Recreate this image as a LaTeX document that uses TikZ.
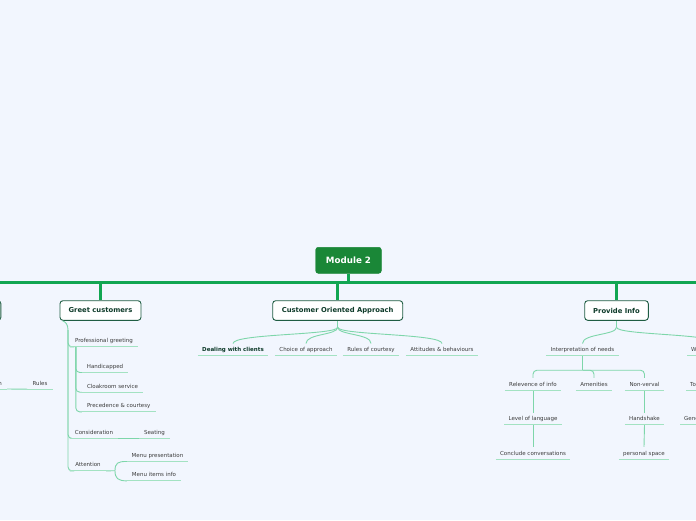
\documentclass[tikz,border=0pt]{standalone}
\usepackage{fontspec}
\setmainfont{DejaVu Sans}
\usetikzlibrary{calc}
\definecolor{bg}{HTML}{F2F6FE}
\definecolor{rootg}{HTML}{1A8737}
\definecolor{barg}{HTML}{12A652}
\definecolor{bord}{HTML}{1F5D43}
\definecolor{btext}{HTML}{0E3B2A}
\definecolor{subt}{HTML}{3B3B3B}
\definecolor{connc}{HTML}{7ED6AA}
\definecolor{ulc}{HTML}{A3E2C2}
\begin{document}
\begin{tikzpicture}[x=1pt,y=-1pt,
  rootbox/.style={fill=rootg, draw=rootg, rounded corners=2.5pt, text=white, font=\bfseries\fontsize{8.7}{10}\selectfont, minimum width=65.6pt, minimum height=26pt, inner sep=0},
  branch/.style={fill=white, draw=bord, line width=0.9pt, rounded corners=3pt, text=btext, font=\bfseries\fontsize{6.8}{8}\selectfont, minimum height=19.6pt, inner sep=0},
  sub/.style={font=\fontsize{5.5}{6.5}\selectfont, text=subt, minimum height=12pt, inner sep=0, text height=4.6pt, text depth=0.2pt},
  subb/.style={sub, font=\bfseries\fontsize{5.5}{6.5}\selectfont, text=btext},
  conn/.style={draw=connc, line width=0.9pt},
  uline/.style={draw=ulc, line width=0.9pt},
  bar/.style={draw=barg, line width=3.2pt}]
\useasboundingbox (0,0) rectangle (696,520);
\clip (0,0) rectangle (696,520);
\fill[bg] (0,0) rectangle (696,520);

% root and bar
\node[rootbox] (root) at (348.5,260.3) {Module 2};
\coordinate (barL) at (-5,282.7);
\coordinate (barR) at (701,282.7);
\draw[bar] (barL) -- (barR);
\draw[bar, line width=2.8pt] (root.south) -- (root.south |- barL);

% branches
\node[branch, minimum width=60pt, anchor=east] (lb) at (1.3,310.5) {};
\node[branch, minimum width=81pt] (greet) at (100.5,310.5) {Greet customers};
\node[branch, minimum width=130pt] (coa) at (337.7,310.5) {Customer Oriented Approach};
\node[branch, minimum width=63.6pt] (pi) at (616.5,310.5) {Provide Info};
\foreach \b in {greet,coa,pi} \draw[bar, line width=3pt] (\b.north |- barL) -- (\b.north);

% left partial
\node[sub, anchor=south east, inner xsep=5pt] (nn) at (7,389) {n};
\node[sub, minimum width=25pt] (rules) at (40,383) {Rules};
\draw[conn] (nn.south east) -- (rules.south west);

% Greet customers children
\node[sub, minimum width=68pt] (pg) at (104,340.7) {Professional greeting};
\node[sub, minimum width=46pt] (hc) at (105,366.3) {Handicapped};
\node[sub, minimum width=61pt] (cs) at (112.5,386) {Cloakroom service};
\node[sub, minimum width=73.5pt] (pc) at (118.75,405.7) {Precedence \& courtesy};
\node[sub, minimum width=48pt] (cons) at (94,432.3) {Consideration};
\node[sub, minimum width=31pt] (seat) at (154.5,432.3) {Seating};
\node[sub, minimum width=36pt] (att) at (88,464.7) {Attention};
\node[sub, minimum width=61pt] (mp) at (157.5,455.3) {Menu presentation};
\node[sub, minimum width=54pt] (mi) at (154,474.7) {Menu items info};

\coordinate (gs) at (68,330);
\draw[conn] ($(greet.south west)+(3,0)$) .. controls (66,322) and (68,325) .. (gs);
\foreach \c in {pg,cons,att} \draw[conn, rounded corners=4pt] (gs) |- (\c.south west);
\coordinate (pgs) at ($(pg.south west)+(6,0)$);
\foreach \c in {hc,cs,pc} \draw[conn, rounded corners=4pt] (pgs) |- (\c.south west);
\draw[conn] (cons.south east) -- (seat.south west);
\coordinate (af) at (115,470.7);
\draw[conn] (att.south east) -- (af);
\draw[conn] (af) .. controls (115,463) and (118,461.3) .. (mp.south west);
\draw[conn] (af) .. controls (115,478.5) and (118,480.7) .. (mi.south west);

% Customer Oriented Approach children
\node[subb, minimum width=70pt] (dw) at (233,349.7) {Dealing with clients};
\node[sub, minimum width=62pt] (ca) at (306,349.7) {Choice of approach};
\node[sub, minimum width=56pt] (rc) at (371,349.7) {Rules of courtesy};
\node[sub, minimum width=72pt] (ab) at (442,349.7) {Attitudes \& behaviours};
\coordinate (cf) at ($(coa.south)+(0,6.5)$);
\draw[conn] (coa.south) -- (cf);
\foreach \c in {dw,ca,rc,ab} \draw[conn] (cf) .. controls +(0,8) and +(0,-10) .. (\c.north);

% Provide Info children
\node[sub, minimum width=73pt] (in) at (582.5,349.7) {Interpretation of needs};
\node[sub, anchor=west, minimum width=60pt, inner xsep=4pt, align=left, text width=52pt] (w) at (687,349.7) {W};
\coordinate (pf) at ($(pi.south)+(0,6.5)$);
\draw[conn] (pi.south) -- (pf);
\draw[conn] (pf) .. controls +(0,8) and +(0,-10) .. (in.north);
\draw[conn] (pf) .. controls +(0,8) and +(0,-10) .. (w.north);

\node[sub, minimum width=56pt] (rel) at (533,384) {Relevence of info};
\node[sub, minimum width=36pt] (am) at (594,384) {Amenities};
\node[sub, minimum width=39pt] (nv) at (644.5,384) {Non-verval};
\node[sub, anchor=west, minimum width=40pt, inner xsep=4pt, text width=32pt, align=left] (to) at (686,384) {To};
\node[sub, minimum width=57pt] (ll) at (533,418.7) {Level of language};
\node[sub, minimum width=39pt] (hs) at (644.5,418.7) {Handshake};
\node[sub, anchor=west, minimum width=50pt, inner xsep=4pt, text width=42pt, align=left] (gen) at (680,418.7) {Gene};
\node[sub, minimum width=74pt] (cc) at (533,453) {Conclude conversations};
\node[sub, minimum width=50pt] (ps) at (644,453) {personal space};

\coordinate (ij) at ($(in.south)+(0,14.3)$);
\draw[conn] (in.south) -- (ij);
\foreach \c in {rel,am,nv} \draw[conn, rounded corners=4pt] (ij) -| (\c.north);
\draw[conn] (rel.south) -- (ll.north);
\draw[conn] (ll.south) -- (cc.north);
\draw[conn] (nv.south) -- (hs.north);
\draw[conn] (hs.south) -- (ps.north);

% underlines
\foreach \n in {nn,rules,pg,hc,cs,pc,cons,seat,att,mp,mi,dw,ca,rc,ab,in,w,rel,am,nv,to,ll,hs,gen,cc,ps}
  \draw[uline] (\n.south west) -- (\n.south east);
\end{tikzpicture}
\end{document}
